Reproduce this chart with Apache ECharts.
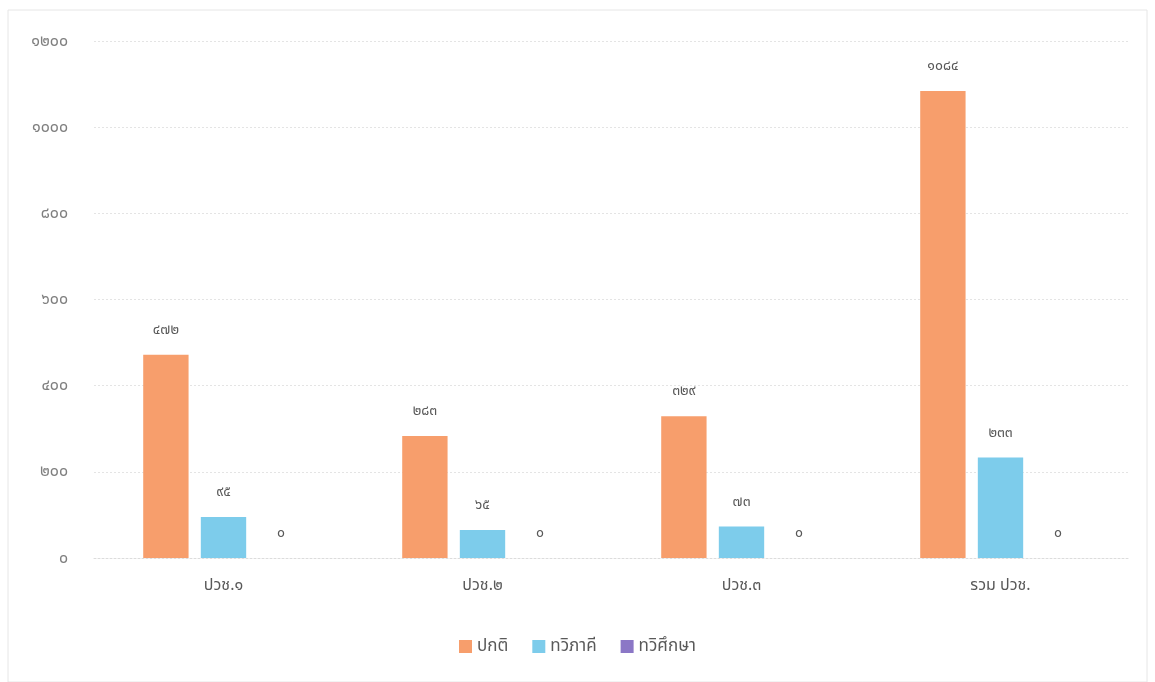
<!DOCTYPE html>
<html><head><meta charset="utf-8">
<script src="https://cdn.jsdelivr.net/npm/echarts@6/dist/echarts.min.js"></script>
<style>html,body{margin:0;padding:0;background:#fff}#c{width:1155px;height:682px}</style>
</head><body><div id="c"></div>
<script>
const categories = ['ปวช.๑', 'ปวช.๒', 'ปวช.๓', 'รวม ปวช.'];
const seriesNames = ['ปกติ', 'ทวิภาคี', 'ทวิศึกษา'];
const normal = [472, 283, 329, 1084];
const dual = [95, 65, 73, 233];
const dualEdu = [0, 0, 0, 0];
const yMax = 1200, yStep = 200;

const thaiDigits = '๐๑๒๓๔๕๖๗๘๙';
const toThai = v => String(v).replace(/[0-9]/g, d => thaiDigits[+d]);
const colors = ['#F79E6C', '#7DCCEB', '#8B77C6'];
const font = "'Noto Sans', 'Noto Sans Thai', 'Loma', sans-serif";

const chart = echarts.init(document.getElementById('c'));
const mk = (name, data, i) => ({
  name, type: 'bar', data, barGap: '27%', barCategoryGap: '38%',
  itemStyle: { color: colors[i] },
  label: { show: true, position: 'top', distance: 18, color: '#595959', fontSize: 14, fontFamily: font,
           formatter: p => toThai(p.value) }
});
chart.setOption({
  backgroundColor: '#fff',
  textStyle: { fontFamily: font },
  graphic: [{ type: 'rect', shape: { x: 8, y: 10, width: 1139, height: 672 },
              style: { fill: 'none', stroke: '#e6e6e6', lineWidth: 1 } }],
  grid: { left: 94, right: 25, top: 41, bottom: 124 },
  legend: { bottom: 22, left: 'center', itemWidth: 13, itemHeight: 13, itemGap: 24, icon: 'rect',
            textStyle: { color: '#595959', fontSize: 17, fontFamily: font } },
  xAxis: { type: 'category', data: categories,
           axisLine: { lineStyle: { color: '#dcdcdc', type: [2, 2] } }, axisTick: { show: false },
           axisLabel: { color: '#595959', fontSize: 16, margin: 19, fontFamily: font } },
  yAxis: { type: 'value', min: 0, max: yMax, interval: yStep,
           axisLine: { show: false }, axisTick: { show: false },
           splitLine: { lineStyle: { color: '#e4e4e4', type: [2, 2] } },
           axisLabel: { color: '#7f7f7f', fontSize: 16, margin: 26, fontFamily: font, formatter: v => toThai(v) } },
  series: [mk(seriesNames[0], normal, 0), mk(seriesNames[1], dual, 1), mk(seriesNames[2], dualEdu, 2)]
});
</script></body></html>
